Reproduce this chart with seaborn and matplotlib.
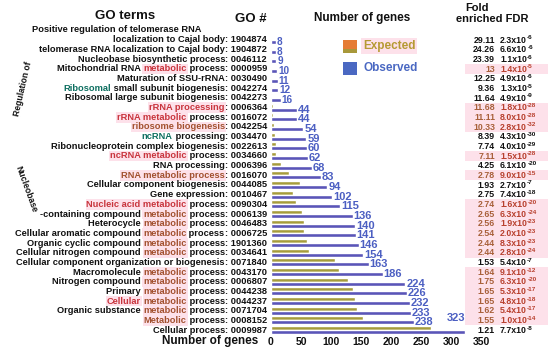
import re
import numpy as np
import pandas as pd
import matplotlib
matplotlib.use("Agg")
import matplotlib.pyplot as plt
import seaborn as sns
from matplotlib.transforms import IdentityTransform
from matplotlib.patches import Rectangle

# ---------------- data ----------------
terms = [
    "localization to Cajal body",
    "telomerase RNA localization to Cajal body",
    "Nucleobase biosynthetic process",
    "Mitochondrial RNA <metabolic> process",
    "Maturation of SSU-rRNA",
    "[Ribosomal] small subunit biogenesis",
    "Ribosomal large subunit biogenesis",
    "<rRNA processing>",
    "<rRNA metabolic> process",
    "{ribosome biogenesis}",
    "[ncRNA] processing",
    "Ribonucleoprotein complex biogenesis",
    "<ncRNA metabolic> process",
    "RNA processing",
    "{RNA metabolic process}",
    "Cellular component biogenesis",
    "Gene expression",
    "<Nucleic acid metabolic> process",
    "-containing compound {metabolic} process",
    "Heterocycle {metabolic} process",
    "Cellular aromatic compound {metabolic} process",
    "Organic cyclic compound {metabolic} process",
    "Cellular nitrogen compound {metabolic} process",
    "Cellular component organization or biogenesis",
    "Macromolecule {metabolic} process",
    "Nitrogen compound {metabolic} process",
    "Primary {metabolic} process",
    "<Cellular> {metabolic} process",
    "Organic substance {metabolic} process",
    "{Metabolic} process",
    "Cellular process",
]
first_line = "Positive regulation of telomerase RNA"
go_ids = ["1904874", "1904872", "0046112", "0000959", "0030490", "0042274", "0042273",
          "0006364", "0016072", "0042254", "0034470", "0022613", "0034660", "0006396",
          "0016070", "0044085", "0010467", "0090304", "0006139", "0046483", "0006725",
          "1901360", "0034641", "0071840", "0043170", "0006807", "0044238", "0044237",
          "0071704", "0008152", "0009987"]
observed = [8, 8, 9, 10, 11, 12, 16, 44, 44, 54, 59, 60, 62, 68, 83, 94, 102, 115, 136,
            140, 141, 146, 154, 163, 186, 224, 226, 232, 233, 238, 323]
expected = [0.3, 0.3, 0.4, 0.8, 0.9, 1.3, 1.4, 3.8, 4.0, 5.2, 7.0, 7.8, 8.7, 16, 30, 49,
            37, 42, 51, 55, 55.5, 60, 63, 106.5, 113, 128, 137, 140.6, 143.8, 153.5, 267]
fold_txt = ["29.11", "24.26", "23.39", "13", "12.25", "9.36", "11.64", "11.68", "11.11",
            "10.33", "8.39", "7.74", "7.11", "4.25", "2.78", "1.93", "2.75", "2.74", "2.65",
            "2.56", "2.54", "2.44", "2.44", "1.53", "1.64", "1.75", "1.65", "1.65", "1.62",
            "1.55", "1.21"]
fdr_mant = ["2.3", "6.6", "1.1", "1.4", "4.9", "1.3", "4.9", "1.8", "8.0", "2.8", "4.3",
            "4.0", "1.5", "6.1", "9.0", "2.7", "7.4", "1.6", "6.3", "1.9", "2.0", "8.3",
            "2.8", "5.4", "9.1", "6.3", "5.3", "4.8", "5.4", "1.0", "7.7"]
fdr_exp = [-6, -6, -6, -5, -6, -5, -9, -28, -28, -32, -30, -29, -28, -20, -15, -7, -18,
           -20, -24, -23, -23, -23, -24, -7, -12, -20, -17, -18, -17, -14, -8]
highlight_rows = [3, 7, 8, 9, 12, 14, 17, 18, 19, 20, 21, 22, 24, 25, 26, 27, 28, 29]
x_ticks = [0, 50, 100, 150, 200, 250, 300, 350]

# ---------------- style ----------------
sns.set_theme(style="white")
plt.rcParams["font.family"] = ["Liberation Sans", "DejaVu Sans"]
plt.rcParams["font.weight"] = "bold"

EXP_C = "#a69c3c"
OBS_C = "#5a55b8"
LAB_C = "#4c5fc2"
RED = "#c8343c"
BROWN = "#a2502e"
TEAL = "#0d6f60"
PINK = "#fde1ea"
FOLD_HL = "#a8603a"
FDR_HL = "#b8402e"

W, H = 550, 349
fig = plt.figure(figsize=(5.5, 3.49), dpi=100)
fig.patch.set_facecolor("white")
ident = IdentityTransform()

row_h = 9.67
top_px = 40 - row_h / 2
bot_px = 330 + row_h / 2
x0_px = 271
ax = fig.add_axes([x0_px / W, 1 - bot_px / H, 210 / W, (bot_px - top_px) / H])
ax.set_facecolor("none")

n = len(go_ids)
df = pd.DataFrame({
    "go": go_ids * 2,
    "count": expected + observed,
    "kind": ["Expected"] * n + ["Observed"] * n,
})
sns.barplot(data=df, y="go", x="count", hue="kind", hue_order=["Expected", "Observed"],
            order=go_ids, palette={"Expected": EXP_C, "Observed": OBS_C}, orient="h",
            width=0.86, saturation=1, legend=False, ax=ax)
ax.set_xlim(0, 350)
ax.set_ylim(n - 0.5, -0.5)
ax.set_xticks(x_ticks)
ax.set_xticklabels([str(t) for t in x_ticks], fontweight="bold", fontsize=7.5, color="#111111")
ax.set_yticks([])
ax.set_xlabel("")
ax.set_ylabel("")
for s in ax.spines.values():
    s.set_visible(False)
ax.tick_params(axis="x", length=0, pad=1.5)

# value labels
for i, v in enumerate(observed):
    if i == n - 1:
        ax.text(v + 1, i - 1.2, str(v), color=LAB_C, fontsize=8.0, fontweight="bold",
                ha="right", va="center")
    else:
        fs = 7.2 if i < 7 else 8.0
        ax.text(v + 1.5, i + 0.215, str(v), color=LAB_C, fontsize=fs, fontweight="bold",
                ha="left", va="center")

fig.canvas.draw()
renderer = fig.canvas.get_renderer()


def row_y(i):
    return ax.transData.transform((0, i))[1]


def text_w(s, **kw):
    t = fig.text(0, 0, s + "|", transform=ident, **kw)
    w1 = t.get_window_extent(renderer).width
    t.set_text("|")
    w2 = t.get_window_extent(renderer).width
    t.remove()
    return w1 - w2


def parse(markup):
    segs = []
    for m in re.finditer(r"<([^>]*)>|\{([^}]*)\}|\[([^\]]*)\]|([^<{\[]+)", markup):
        if m.group(1) is not None:
            segs.append((m.group(1), RED, True))
        elif m.group(2) is not None:
            segs.append((m.group(2), BROWN, True))
        elif m.group(3) is not None:
            segs.append((m.group(3), TEAL, False))
        else:
            segs.append((m.group(4), "#111111", False))
    return segs


LFS = 6.7
label_right = 267
for i, (term, gid) in enumerate(zip(terms, go_ids)):
    segs = parse(term) + [(": " + gid, "#111111", False)]
    xr = label_right
    yb = row_y(i) - 2.5
    for s, c, hl in reversed(segs):
        w = text_w(s, fontsize=LFS, fontweight="bold")
        kw = {}
        if hl:
            kw["bbox"] = dict(boxstyle="square,pad=0.1", fc=PINK, ec="none")
        fig.text(xr - w, yb, s, transform=ident, fontsize=LFS, fontweight="bold",
                 color=c, ha="left", va="baseline", **kw)
        xr -= w

fig.text(32, H - 32, first_line, transform=ident, fontsize=LFS, fontweight="bold",
         color="#111111", ha="left", va="baseline")

# rotated group labels
fig.text(23, H - 89, "Regulation of", transform=ident, rotation=77, fontsize=6.2,
         fontweight="bold", ha="center", va="center", color="#111111")
fig.text(26, H - 189, "Nucleobase", transform=ident, rotation=-70, fontsize=6.2,
         fontweight="bold", ha="center", va="center", color="#111111")

# right columns
RFS = 6.3
EFS = 4.6
for i in range(n):
    yc = row_y(i)
    hl = i in highlight_rows
    col_f = FOLD_HL if hl else "#111111"
    col_d = FDR_HL if hl else "#111111"
    if hl:
        fig.add_artist(Rectangle((465, yc - row_h / 2), 83, row_h, transform=ident,
                                 fc=PINK, ec="none", zorder=0))
    yb = yc - 2.7
    fig.text(495, yb, fold_txt[i], transform=ident, fontsize=RFS, fontweight="bold",
             color=col_f, ha="right", va="baseline")
    mant = f"{fdr_mant[i]}x10"
    fig.text(500, yb, mant, transform=ident, fontsize=RFS, fontweight="bold",
             color=col_d, ha="left", va="baseline")
    wm = text_w(mant, fontsize=RFS, fontweight="bold")
    fig.text(500 + wm + 0.3, yb + 3.2, "-" + str(abs(fdr_exp[i])), transform=ident,
             fontsize=EFS, fontweight="bold", color=col_d, ha="left", va="baseline")

# headers
fig.text(125, H - 16, "GO terms", transform=ident, fontsize=9.5, fontweight="bold",
         ha="center", va="center", color="#111111")
fig.text(251, H - 19, "GO #", transform=ident, fontsize=9.5, fontweight="bold",
         ha="center", va="center", color="#111111")
fig.text(362, H - 18, "Number of genes", transform=ident, fontsize=8.5, fontweight="bold",
         ha="center", va="center", color="#111111")
fig.text(477, H - 8, "Fold", transform=ident, fontsize=8, fontweight="bold",
         ha="center", va="center", color="#111111")
fig.text(492, H - 19, "enriched FDR", transform=ident, fontsize=8, fontweight="bold",
         ha="center", va="center", color="#111111")
fig.text(258, H - 341, "Number of genes", transform=ident, fontsize=8.5, fontweight="bold",
         ha="right", va="center", color="#111111")

# legend
fig.add_artist(Rectangle((343, H - 53), 14, 13, transform=ident, fc="#e57c34", ec="none"))
fig.add_artist(Rectangle((343, H - 53), 14, 4, transform=ident, fc="#a8983a", ec="none"))
fig.add_artist(Rectangle((343, H - 75), 14, 13, transform=ident, fc="#4a68c2", ec="none"))
fig.text(363, H - 46, "Expected", transform=ident, fontsize=8.5, fontweight="bold",
         color="#b69a32", ha="left", va="center",
         bbox=dict(boxstyle="square,pad=0.15", fc=PINK, ec="none"))
fig.text(363, H - 68, "Observed", transform=ident, fontsize=8.5, fontweight="bold",
         color="#4a68c2", ha="left", va="center")

fig.savefig("out.png", dpi=100, facecolor="white")
